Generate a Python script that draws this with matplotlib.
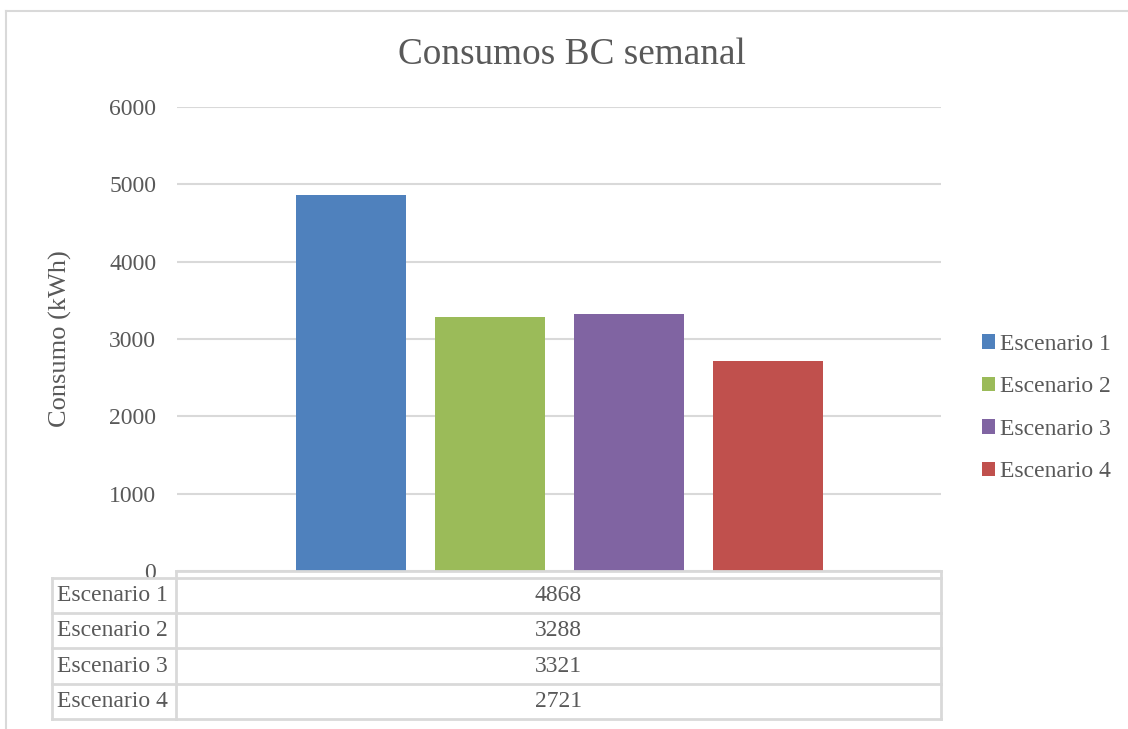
import matplotlib
matplotlib.use("Agg")
import matplotlib.pyplot as plt
from matplotlib.lines import Line2D

# Weekly consumption per scenario
series = ["Escenario 1", "Escenario 2", "Escenario 3", "Escenario 4"]
values = [4868, 3288, 3321, 2721]
colors = ["#4F81BD", "#9BBB59", "#8064A2", "#C0504D"]
yticks = [0, 1000, 2000, 3000, 4000, 5000, 6000]

W, H = 1128, 729
TXT = "#595959"
GRID = "#D9D9D9"
plt.rcParams["font.family"] = ["Liberation Serif", "DejaVu Serif"]

fig = plt.figure(figsize=(W / 100, H / 100), dpi=100)


def px_rect(x0, y0, x1, y1):
    """Convert pixel box (top-left origin) to figure fraction rect."""
    return [x0 / W, 1 - y1 / H, (x1 - x0) / W, (y1 - y0) / H]


# chart frame (left and top edges visible)
fig.add_artist(Line2D([6 / W, 6 / W], [0, 1 - 11 / H], color=GRID, lw=1.5,
                      transform=fig.transFigure))
fig.add_artist(Line2D([6 / W, 1], [1 - 11 / H, 1 - 11 / H], color=GRID, lw=1.5,
                      transform=fig.transFigure))

# plot area
px0, py0, px1, py1 = 177, 107, 941, 571
ax = fig.add_axes(px_rect(px0, py0, px1, py1))
ax.set_xlim(0, 1)
ax.set_ylim(0, 6000)
ax.set_yticks(yticks)
ax.set_yticklabels([str(t) for t in yticks], fontsize=17, color=TXT)
ax.tick_params(axis="y", length=0, pad=15)
ax.set_xticks([])
for s in ax.spines.values():
    s.set_visible(False)
ax.yaxis.grid(True, color=GRID, lw=1.5)
ax.set_axisbelow(True)

spacing = 139 / 764
width = 110 / 764
n = len(values)
for i, (name, v, c) in enumerate(zip(series, values, colors)):
    x = 0.5 + (i - (n - 1) / 2) * spacing
    ax.bar(x, v, width=width, color=c, label=name, zorder=3)

ax.set_ylabel("Consumo (kWh)", fontsize=19, color=TXT, labelpad=27)
fig.text(572 / W, 1 - 55 / H, "Consumos BC semanal", fontsize=26.8,
         color=TXT, ha="center", va="center")

# legend
leg = fig.legend(loc="center left", bbox_to_anchor=(973 / W, 1 - 408 / H),
                 frameon=False, fontsize=17, handlelength=0.55, handleheight=0.55,
                 handletextpad=0.2, labelspacing=0.91, borderaxespad=0)
for t in leg.get_texts():
    t.set_color(TXT)

# data table below the plot area
tax = fig.add_axes([0, 0, 1, 1], zorder=5)
tax.set_xlim(0, W)
tax.set_ylim(H, 0)
tax.axis("off")
tx0, tsplit, tx1 = 52, 176, 941
row_tops = [578, 613, 648, 684, 719]
lw = 2
tax.add_line(Line2D([tsplit, tx1], [571, 571], color=GRID, lw=lw))
tax.add_line(Line2D([tsplit, tsplit], [571, 719], color=GRID, lw=lw))
tax.add_line(Line2D([tx1, tx1], [571, 719], color=GRID, lw=lw))
tax.add_line(Line2D([tx0, tx0], [578, 719], color=GRID, lw=lw))
for y in row_tops:
    tax.add_line(Line2D([tx0, tx1], [y, y], color=GRID, lw=lw))
for i, (name, v) in enumerate(zip(series, values)):
    yc = (row_tops[i] + row_tops[i + 1]) / 2
    tax.text(tx0 + 5, yc, name, fontsize=17, color=TXT, ha="left", va="center")
    tax.text((tsplit + tx1) / 2, yc, str(v), fontsize=17, color=TXT,
             ha="center", va="center")

fig.savefig("out.png", dpi=100, facecolor="white")
